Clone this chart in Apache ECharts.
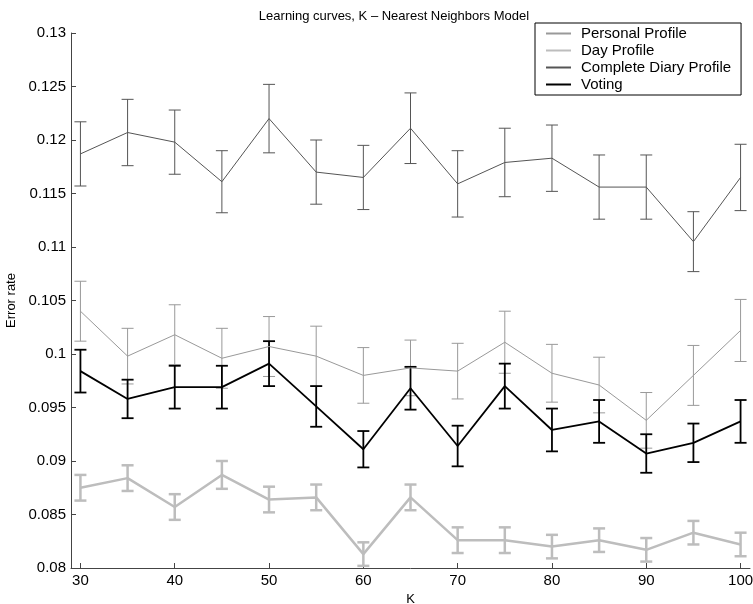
<!DOCTYPE html>
<html>
<head>
<meta charset="utf-8">
<script src="https://cdn.jsdelivr.net/npm/echarts@6/dist/echarts.min.js"></script>
<style>
  html, body { margin: 0; padding: 0; background: #fff; }
  #chart { width: 753px; height: 604px; }
</style>
</head>
<body>
<div id="chart"></div>
<script>
  const kValues = [30, 35, 40, 45, 50, 55, 60, 65, 70, 75, 80, 85, 90, 95, 100]

  const personal = [0.1040, 0.0998, 0.1018, 0.0996, 0.1007, 0.0998, 0.0980, 0.0987, 0.0984, 0.1011, 0.0982, 0.0971, 0.0938, 0.0980, 0.1022]
  const personalErr = [0.0028, 0.0026, 0.0028, 0.0028, 0.0028, 0.0028, 0.0026, 0.0026, 0.0026, 0.0029, 0.0027, 0.0026, 0.0026, 0.0028, 0.0029]

  const day = [0.0875, 0.0884, 0.0857, 0.0887, 0.0864, 0.0866, 0.0813, 0.0866, 0.0826, 0.0826, 0.0820, 0.0826, 0.0817, 0.0833, 0.0822]
  const dayErr = [0.0012, 0.0012, 0.0012, 0.0013, 0.0012, 0.0012, 0.0011, 0.0012, 0.0012, 0.0012, 0.0011, 0.0011, 0.0011, 0.0011, 0.0011]

  const complete = [0.1187, 0.1207, 0.1198, 0.1161, 0.1220, 0.1170, 0.1165, 0.1211, 0.1159, 0.1179, 0.1183, 0.1156, 0.1156, 0.1105, 0.1165]
  const completeErr = [0.0030, 0.0031, 0.0030, 0.0029, 0.0032, 0.0030, 0.0030, 0.0033, 0.0031, 0.0032, 0.0031, 0.0030, 0.0030, 0.0028, 0.0031]

  const voting = [0.0984, 0.0958, 0.0969, 0.0969, 0.0991, 0.0951, 0.0911, 0.0968, 0.0914, 0.0970, 0.0929, 0.0937, 0.0907, 0.0917, 0.0937]
  const votingErr = [0.0020, 0.0018, 0.0020, 0.0020, 0.0021, 0.0019, 0.0017, 0.0020, 0.0019, 0.0021, 0.0020, 0.0020, 0.0018, 0.0018, 0.0020]

  const yTicks = ['0.08', '0.085', '0.09', '0.095', '0.1', '0.105', '0.11', '0.115', '0.12', '0.125', '0.13']
  const xTicks = [30, 40, 50, 60, 70, 80, 90, 100]

  const font = 'Liberation Sans, Arial, Helvetica, sans-serif'

  // one line series + one custom error bar series per model
  function makeSeries(name, values, errs, color, width, capHalf) {
    const pts = kValues.map((k, i) => [k, values[i]])
    const bars = kValues.map((k, i) => [k, values[i] - errs[i], values[i] + errs[i]])
    return [
      {
        name: name,
        type: 'line',
        data: pts,
        symbol: 'none',
        lineStyle: { color: color, width: width },
        itemStyle: { color: color },
        z: 3
      },
      {
        name: name,
        type: 'custom',
        data: bars,
        z: 2,
        renderItem: function (params, api) {
          const x = api.value(0)
          const lo = api.coord([x, api.value(1)])
          const hi = api.coord([x, api.value(2)])
          const st = { stroke: color, lineWidth: width }
          return {
            type: 'group',
            children: [
              { type: 'line', shape: { x1: lo[0], y1: lo[1], x2: hi[0], y2: hi[1] }, style: st },
              { type: 'line', shape: { x1: lo[0] - capHalf, y1: lo[1], x2: lo[0] + capHalf, y2: lo[1] }, style: st },
              { type: 'line', shape: { x1: hi[0] - capHalf, y1: hi[1], x2: hi[0] + capHalf, y2: hi[1] }, style: st }
            ]
          }
        }
      }
    ]
  }

  const chart = echarts.init(document.getElementById('chart'))
  chart.setOption({
    animation: false,
    backgroundColor: '#fff',
    title: {
      text: 'Learning curves, K \u2013 Nearest Neighbors Model',
      left: 389,
      textAlign: 'center',
      top: 5,
      textStyle: { fontFamily: font, fontSize: 13, fontWeight: 'normal', color: '#000' }
    },
    legend: {
      orient: 'vertical',
      left: 535,
      top: 23,
      padding: [3, 10, 3, 10],
      itemGap: 2,
      itemWidth: 25,
      itemHeight: 15,
      borderColor: '#000',
      borderWidth: 1,
      backgroundColor: '#fff',
      itemStyle: { opacity: 0 },
      data: ['Personal Profile', 'Day Profile', 'Complete Diary Profile', 'Voting'],
      textStyle: { fontFamily: font, fontSize: 15, color: '#000', padding: [0, 0, 0, 5] },
      z: 10
    },
    grid: { left: 71, right: 3, top: 33, bottom: 36, containLabel: false, outerBoundsMode: 'none' },
    xAxis: {
      type: 'value',
      min: 29,
      max: 101,
      name: 'K',
      nameLocation: 'middle',
      nameGap: 22,
      nameTextStyle: { fontFamily: font, fontSize: 13, color: '#000' },
      axisLine: { lineStyle: { color: '#444', width: 1 } },
      axisTick: { inside: true, length: 5, customValues: xTicks, lineStyle: { color: '#444' } },
      axisLabel: { customValues: xTicks, fontFamily: font, fontSize: 15, color: '#000', margin: 5 },
      splitLine: { show: false }
    },
    yAxis: {
      type: 'value',
      min: 0.08,
      max: 0.13,
      name: 'Error rate',
      nameLocation: 'middle',
      nameGap: 48,
      nameRotate: 90,
      nameTextStyle: { fontFamily: font, fontSize: 13, color: '#000' },
      axisLine: { show: true, lineStyle: { color: '#444', width: 1 } },
      axisTick: { show: true, inside: true, length: 5, customValues: yTicks.map(Number), lineStyle: { color: '#444' } },
      axisLabel: {
        customValues: yTicks.map(Number),
        formatter: v => String(parseFloat(v.toFixed(4))),
        fontFamily: font, fontSize: 15, color: '#000', margin: 5
      },
      splitLine: { show: false }
    },
    series: [].concat(
      makeSeries('Personal Profile', personal, personalErr, '#999999', 1, 6),
      makeSeries('Day Profile', day, dayErr, '#bdbdbd', 2.5, 6),
      makeSeries('Complete Diary Profile', complete, completeErr, '#555555', 1, 6),
      makeSeries('Voting', voting, votingErr, '#000000', 1.8, 6)
    )
  })
</script>
</body>
</html>
